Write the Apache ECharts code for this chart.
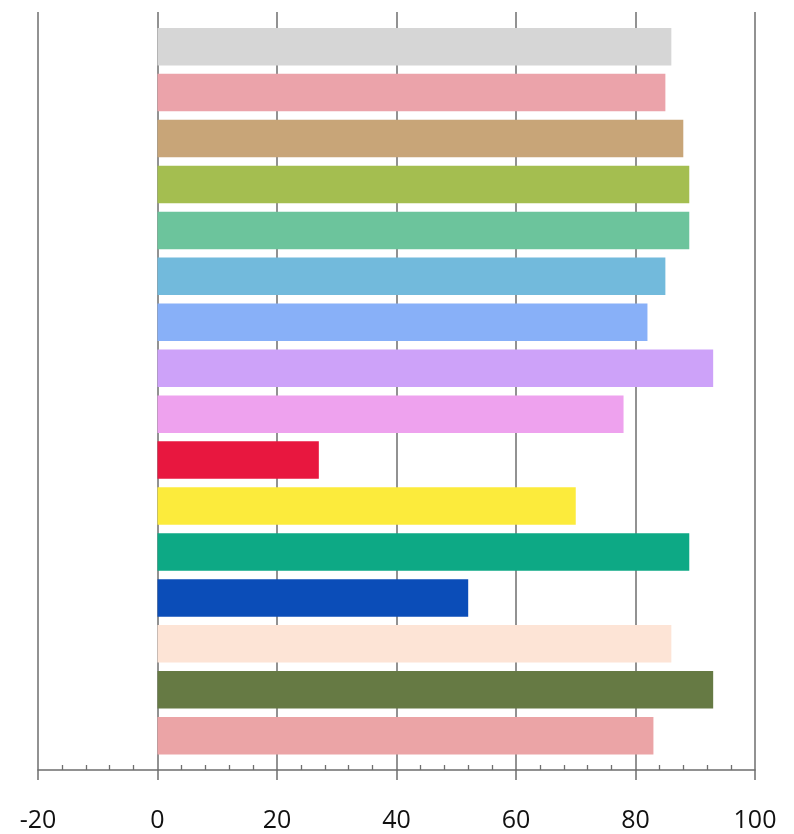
<!DOCTYPE html>
<html>
<head>
<meta charset="utf-8">
<script src="https://cdn.jsdelivr.net/npm/echarts@6/dist/echarts.min.js"></script>
<style>
html,body{margin:0;padding:0;background:#fff;}
#chart{width:794px;height:834px;}
</style>
</head>
<body>
<div id="chart"></div>
<script>
// Data (top to bottom)
var categories = ['1','2','3','4','5','6','7','8','9','10','11','12','13','14','15','16'];
var values = [86, 85, 88, 89, 89, 85, 82, 93, 78, 27, 70, 89, 52, 86, 93, 83];
var barColors = ['#D6D6D6','#EBA3AA','#C8A578','#A4BE50','#6CC49C','#72BADC','#88B0F8','#CDA2F9','#EEA2EE','#E8173F','#FCEB3C','#0DA985','#0B4DB8','#FDE4D6','#667A44','#EBA4A6'];
var xTicks = [-20, 0, 20, 40, 60, 80, 100];

var xMin = xTicks[0], xMax = xTicks[xTicks.length - 1], xStep = xTicks[1] - xTicks[0];
var gridColor = '#6e6e6e';

var chart = echarts.init(document.getElementById('chart'), null, {renderer: 'canvas'});
chart.setOption({
  backgroundColor: '#ffffff',
  animation: false,
  grid: [
    {left: 38, width: 717, top: 12, height: 758, outerBoundsMode: 'none', containLabel: false},
    {left: 38, width: 717, top: 23.7, height: 735, outerBoundsMode: 'none', containLabel: false},
    {left: 38, width: 717, top: 12, height: 758, outerBoundsMode: 'none', containLabel: false}
  ],
  xAxis: [
    {
      type: 'value', gridIndex: 0, min: xMin, max: xMax, interval: xStep,
      axisLine: {show: true, lineStyle: {color: gridColor, width: 1.5}},
      axisTick: {show: true, inside: false, length: 10, lineStyle: {color: gridColor, width: 1.5}},
      splitLine: {show: true, lineStyle: {color: gridColor, width: 1.5}},
      axisLabel: {show: true, margin: 38, fontFamily: 'Open Sans', fontSize: 25, color: '#111',
        formatter: function (v) { return String(v); }}
    },
    {
      type: 'value', gridIndex: 1, min: xMin, max: xMax, interval: xStep, show: false,
      splitLine: {show: false}
    },
    {
      type: 'value', gridIndex: 2, min: xMin, max: xMax, interval: xStep,
      axisLine: {show: false},
      axisTick: {show: false, inside: true},
      minorTick: {show: true, splitNumber: 5, length: 5, lineStyle: {color: gridColor, width: 1.3}},
      splitLine: {show: false},
      axisLabel: {show: false}
    }
  ],
  yAxis: [
    {type: 'category', gridIndex: 0, data: categories, inverse: true, show: false},
    {type: 'category', gridIndex: 1, data: categories, inverse: true, show: false},
    {type: 'category', gridIndex: 2, data: categories, inverse: true, show: false}
  ],
  series: [{
    type: 'bar',
    xAxisIndex: 1, yAxisIndex: 1,
    barWidth: 37.5,
    data: values.map(function (v, i) {
      return {value: v, itemStyle: {color: barColors[i]}};
    })
  }]
});
</script>
</body>
</html>
